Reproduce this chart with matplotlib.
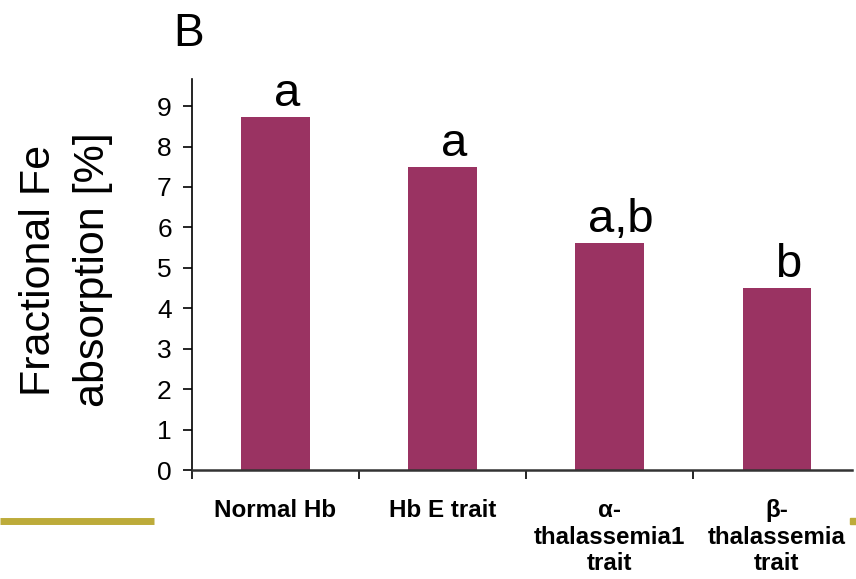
import matplotlib.pyplot as plt
from matplotlib.lines import Line2D
from matplotlib.patches import Rectangle

# ==================== data ====================
groups  = ["Normal Hb", "Hb E trait", "α-\nthalassemia1\ntrait", "β-\nthalassemia\ntrait"]
absorb  = [8.73, 7.49, 5.61, 4.50]
letters = ["a", "a", "a,b", "b"]
yticks  = list(range(0, 10))

BAR_COLOR   = "#9A3362"
OLIVE       = "#BDAB3A"

plt.rcParams["font.family"] = ["Liberation Sans", "DejaVu Sans"]

fig = plt.figure(figsize=(8.56, 5.79), dpi=100)
ax  = fig.add_axes([192 / 856, 1 - 470 / 579, 660 / 856, (470 - 79) / 579])

x = list(range(len(groups)))
bars = ax.bar(x, absorb, width=0.41, color=BAR_COLOR, zorder=2)

for b, lab in zip(bars, letters):
    ax.annotate(lab, (b.get_x() + b.get_width() / 2, b.get_height()),
                xytext=(8, 8), textcoords="offset points",
                ha="center", va="baseline", fontsize=34)

ax.set_xlim(-0.5, 3.45)
ax.set_ylim(0, 9.67)
ax.set_yticks(yticks)
ax.tick_params(axis="y", direction="out", length=6.5, width=1.2, labelsize=19, pad=8)

ax.set_xticks(x)
ax.set_xticklabels(groups, fontsize=17.4, fontweight="bold", linespacing=1.2, va="top")
ax.set_xticks([-0.5, 0.5, 1.5, 2.5], minor=True)
ax.tick_params(axis="x", which="major", length=0, pad=21)
ax.tick_params(axis="x", which="minor", direction="out", length=6.5, width=1.2)

for s in ["top", "right"]:
    ax.spines[s].set_visible(False)
ax.spines["left"].set_linewidth(1.2)
ax.spines["bottom"].set_linewidth(1.8)
ax.spines["bottom"].set_color("#333333")

fig.text(66 / 856, 1 - 270 / 579, "Fractional Fe\nabsorption [%]",
         rotation=90, ha="center", va="center", multialignment="center",
         fontsize=31, linespacing=1.45)

fig.text(173 / 856, 1 - 46 / 579, "B", fontsize=33, ha="left", va="baseline")

# slide decoration
fig.add_artist(Line2D([0, 154 / 856], [1 - 521 / 579] * 2, color=OLIVE,
                      linewidth=5, solid_capstyle="butt", transform=fig.transFigure))
fig.add_artist(Rectangle((850 / 856, 1 - 524 / 579), 6 / 856, 6 / 579,
                         color=OLIVE, transform=fig.transFigure))

fig.savefig("out.png", dpi=100)
